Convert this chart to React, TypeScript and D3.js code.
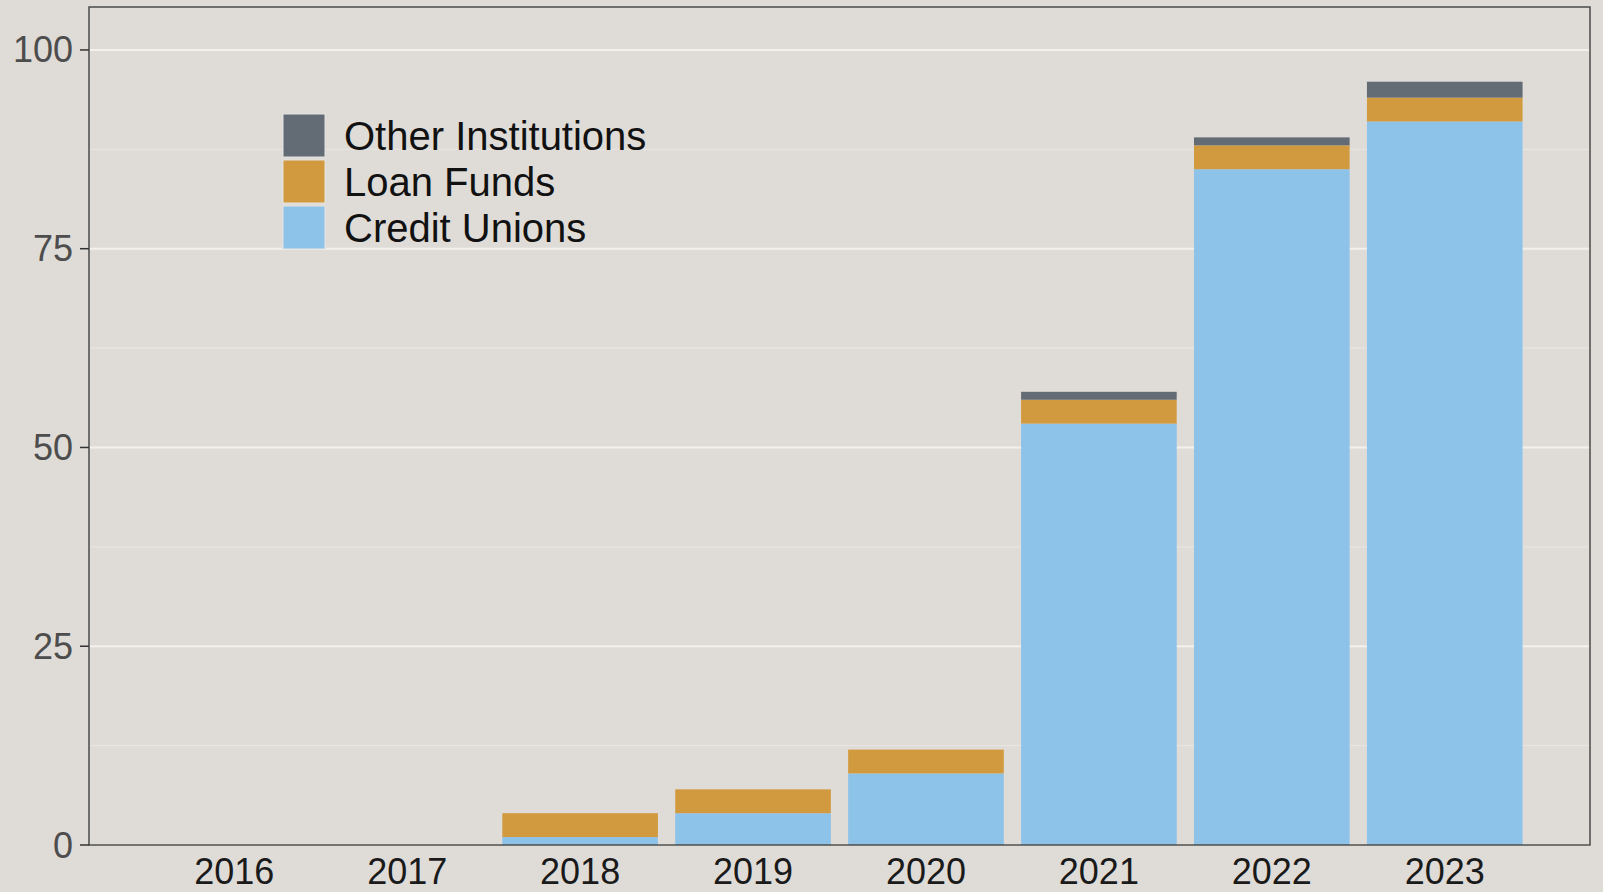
import React, { useEffect } from "react";
import * as d3 from "d3";

const years = ["2016", "2017", "2018", "2019", "2020", "2021", "2022", "2023"];
const creditUnions = [0, 0, 1, 4, 9, 53, 85, 91];
const loanFunds = [0, 0, 3, 3, 3, 3, 3, 3];
const otherInstitutions = [0, 0, 0, 0, 0, 1, 1, 2];
const seriesKeys = ["Credit Unions", "Loan Funds", "Other Institutions"];
const seriesColors = ["#8dc2e9", "#d29a3e", "#636b74"];
const legendOrder = ["Other Institutions", "Loan Funds", "Credit Unions"];
const yTicks = [0, 25, 50, 75, 100];
const yMinor = [12.5, 37.5, 62.5, 87.5];

const W = 1603;
const H = 892;
const X0 = 89;
const X1 = 1590;
const YT = 7;
const YB = 845;
const FONT = "'Liberation Sans', Arial, Helvetica, sans-serif";

export default function App() {
  useEffect(() => {
    document.body.style.margin = "0";
    document.body.style.background = "#dfdcd8";
  }, []);

  const rows = years.map((y, i) => ({
    year: y,
    "Credit Unions": creditUnions[i],
    "Loan Funds": loanFunds[i],
    "Other Institutions": otherInstitutions[i],
  }));
  const stacked = d3.stack<any>().keys(seriesKeys)(rows);

  const x = d3.scaleBand<string>().domain(years).range([X0, X1]).paddingInner(0.1).paddingOuter(0.39);
  const y = d3.scaleLinear().domain([0, 105.4]).range([YB, YT]);
  const color = d3.scaleOrdinal<string, string>().domain(seriesKeys).range(seriesColors);

  return (
    <svg width={W} height={H} style={{ position: "absolute", left: 0, top: 0, display: "block" }}>
      <rect x={0} y={0} width={W} height={H} fill="#dfdcd8" />
      {yMinor.map((t) => (
        <line key={"m" + t} x1={X0} x2={X1} y1={y(t)} y2={y(t)} stroke="#e9e7e4" strokeWidth={1} />
      ))}
      {yTicks.map((t) => (
        <line key={"g" + t} x1={X0} x2={X1} y1={y(t)} y2={y(t)} stroke="#f3f1ee" strokeWidth={2} />
      ))}
      {stacked.map((s) => (
        <g key={s.key} fill={color(s.key)}>
          {s.map((d, i) =>
            d[1] - d[0] > 0 ? (
              <rect
                key={i}
                x={x(years[i])}
                width={x.bandwidth()}
                y={y(d[1])}
                height={y(d[0]) - y(d[1])}
              />
            ) : null
          )}
        </g>
      ))}
      <rect x={X0} y={YT} width={X1 - X0} height={YB - YT} fill="none" stroke="#4a4a4a" strokeWidth={1.5} />
      {yTicks.map((t) => (
        <g key={"t" + t}>
          <line x1={X0 - 9} x2={X0} y1={y(t)} y2={y(t)} stroke="#333" strokeWidth={1.5} />
          <text
            x={X0 - 16}
            y={y(t)}
            textAnchor="end"
            dominantBaseline="central"
            fontFamily={FONT}
            fontSize={36}
            fill="#4d4d4d"
          >
            {t}
          </text>
        </g>
      ))}
      {years.map((yr) => (
        <text
          key={yr}
          x={(x(yr) as number) + x.bandwidth() / 2}
          y={884}
          textAnchor="middle"
          fontFamily={FONT}
          fontSize={36}
          fill="#1a1a1a"
        >
          {yr}
        </text>
      ))}
      <g>
        {legendOrder.map((k, i) => (
          <g key={k}>
            <rect x={283} y={114 + i * 46} width={42} height={43} fill={color(k)} stroke="#e6e4e1" strokeWidth={1} />
            <text
              x={344}
              y={114 + i * 46 + 21.5}
              dominantBaseline="central"
              fontFamily={FONT}
              fontSize={40}
              fill="#111"
            >
              {k}
            </text>
          </g>
        ))}
      </g>
    </svg>
  );
}
